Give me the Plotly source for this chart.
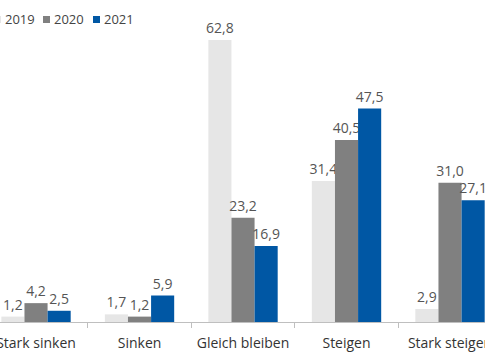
import plotly.graph_objects as go

categories = ["Stark sinken", "Sinken", "Gleich bleiben", "Steigen", "Stark steigen"]
v2019 = [1.2, 1.7, 62.8, 31.4, 2.9]
v2020 = [4.2, 1.2, 23.2, 40.5, 31.0]
v2021 = [2.5, 5.9, 16.9, 47.5, 27.1]
series_names = ["2019", "2020", "2021"]
colors = ["#e6e6e6", "#808080", "#0057a4"]

fig = go.Figure()
for name, vals, col in zip(series_names, [v2019, v2020, v2021], colors):
    fig.add_trace(go.Bar(
        name=name, x=categories, y=vals,
        marker=dict(color=col, line=dict(width=0)),
        texttemplate="%{y:.1f}", textposition="outside",
        textfont=dict(color="#555555", size=14, family="Open Sans"),
        constraintext="none",
        cliponaxis=False,
        showlegend=False,
    ))

# manual legend (squares + labels) in paper coordinates
W, H, T, B = 485, 360, 30, 38
PH = H - T - B
legend_x = [-6, 43, 93]  # pixel x of legend squares
shapes = []
annots = []
for lx, name, col in zip(legend_x, series_names, colors):
    shapes.append(dict(type="rect", xref="paper", yref="paper",
                       x0=lx / W, x1=(lx + 7) / W,
                       y0=(H - B - 23) / PH, y1=(H - B - 16) / PH,
                       line=dict(width=0), fillcolor=col))
    annots.append(dict(text=name, xref="paper", yref="paper",
                       x=(lx + 9) / W, y=(H - B - 19.5) / PH,
                       xanchor="left", yanchor="middle", showarrow=False,
                       font=dict(size=13, color="#444444", family="Open Sans")))

fig.update_layout(
    width=W, height=H,
    margin=dict(l=0, r=0, t=T, b=B, autoexpand=False),
    paper_bgcolor="white", plot_bgcolor="white",
    barmode="group", bargap=0.33, bargroupgap=0,
    separators=",.",
    font=dict(family="Open Sans", color="#444444"),
    shapes=shapes, annotations=annots,
    xaxis=dict(
        range=[-0.348, 4.338], automargin=False,
        showline=True, linecolor="#bfbfbf", linewidth=1,
        ticks="outside", tickson="boundaries", ticklen=5, tickcolor="#bfbfbf",
        tickangle=0, ticklabelstandoff=8,
        tickfont=dict(size=14, color="#333333", family="Open Sans"),
        showgrid=False,
    ),
    yaxis=dict(range=[0, 65], visible=False, showgrid=False, automargin=False),
)

fig.write_html("out.html", config={"displayModeBar": False},
               post_script="document.body.style.margin='0';document.body.style.overflow='hidden';")
